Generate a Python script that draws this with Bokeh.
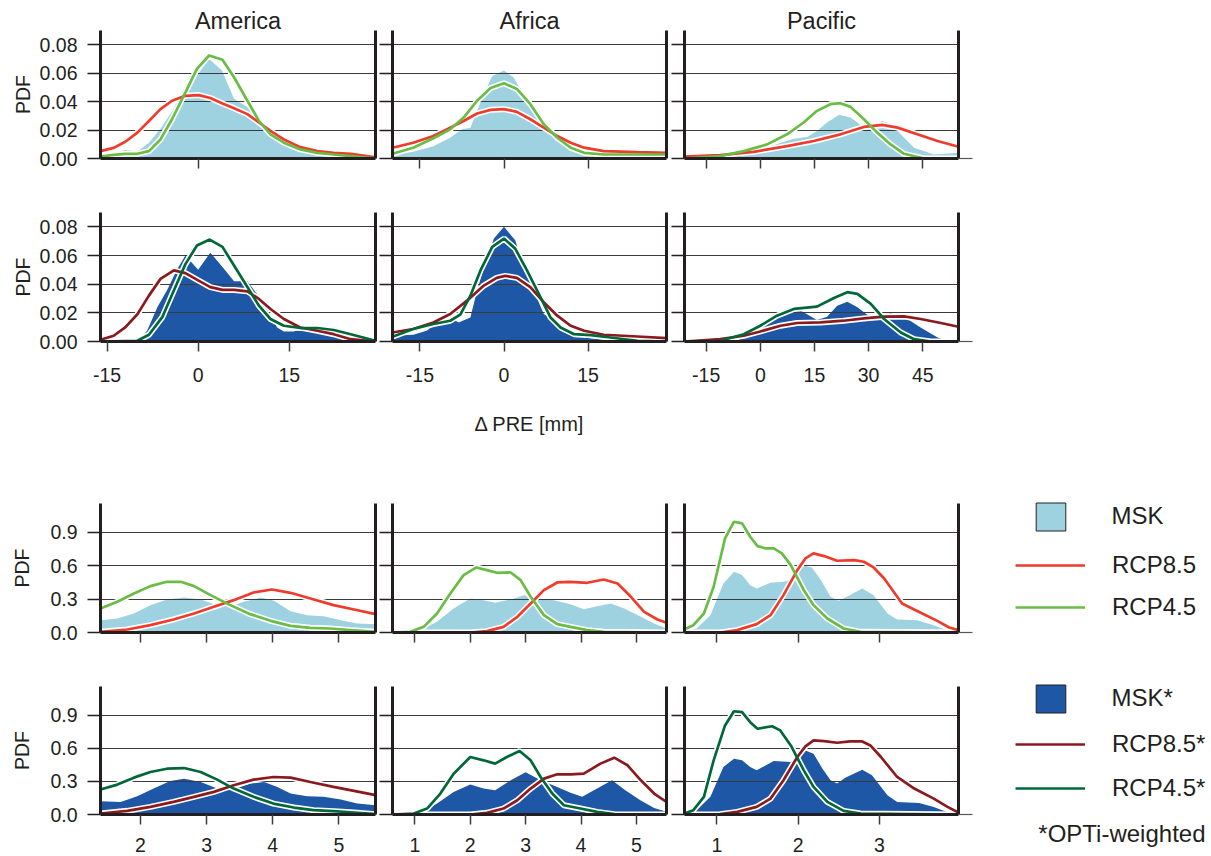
from bokeh.plotting import figure
from bokeh.layouts import column, row
from bokeh.models import Range1d, LinearAxis, FixedTicker, Legend, LegendItem, Label
from bokeh.embed import file_html
from bokeh.resources import INLINE

# ---------------- data ----------------
REGIONS = ["America", "Africa", "Pacific"]
LEGEND_TOP = ["MSK", "RCP8.5", "RCP4.5"]
LEGEND_BOT = ["MSK*", "RCP8.5*", "RCP4.5*"]
FOOTNOTE = "*OPTi-weighted"
XLABEL_PRE = "\u0394 PRE [mm]"
YLABEL = "PDF"

PRE_XRANGE_AM = [-16.07, 29.18]
PRE_XRANGE_AF = [-19.9, 29.0]
PRE_XRANGE_PA = [-21.0, 54.9]
T_XRANGE_AM = [1.395, 5.555]
T_XRANGE_AF = [0.596, 5.543]
T_XRANGE_PA = [0.601, 3.975]
PRE_YRANGE = [0.0, 0.09]
T_YRANGE = [0.0, 1.16]

PRE_TICKS = [-15, 0, 15]
PRE_TICKLABELS = ["-15", "0", "15"]
PRE_TICKS_AM_TOP = [0]
PRE_TICKS_PA = [-15, 0, 15, 30, 45]
PRE_TICKLABELS_PA = ["-15", "0", "15", "30", "45"]
T_TICKS_AM = [2, 3, 4, 5]
T_TICKLABELS_AM = ["2", "3", "4", "5"]
T_TICKS_AF = [1, 2, 3, 4, 5]
T_TICKLABELS_AF = ["1", "2", "3", "4", "5"]
T_TICKS_PA = [1, 2, 3]
T_TICKLABELS_PA = ["1", "2", "3"]
PDF_TICKS_PRE = [0.0, 0.02, 0.04, 0.06, 0.08]
PDF_TICKLABELS_PRE = ["0.00", "0.02", "0.04", "0.06", "0.08"]
PDF_TICKS_T = [0.0, 0.3, 0.6, 0.9]
PDF_TICKLABELS_T = ["0.0", "0.3", "0.6", "0.9"]

# Row 1: Delta PRE, unweighted
AM_PRE_MSK_X = [-16.07, -13.9, -12.0, -10.0, -8.1, -6.2, -4.3, -2.1, -0.8, 0.6, 1.8, 3.9, 5.9, 8.1, 10.0, 11.9, 14.1, 16.8, 19.6, 22.3, 25.1, 29.18]
AM_PRE_MSK_Y = [0.0024, 0.004, 0.006, 0.005, 0.011, 0.021, 0.033, 0.051, 0.055, 0.063, 0.070, 0.062, 0.042, 0.036, 0.026, 0.018, 0.010, 0.008, 0.006, 0.004, 0.003, 0.001]
AM_PRE_R45_X = [-16.07, -13.9, -12.0, -10.0, -8.1, -6.2, -4.3, -2.1, -0.2, 1.8, 4.0, 5.9, 8.1, 10.0, 11.9, 14.1, 16.8, 19.6, 22.3, 25.1, 29.18]
AM_PRE_R45_Y = [0.0014, 0.0026, 0.0033, 0.0033, 0.0052, 0.0134, 0.0276, 0.0465, 0.063, 0.0724, 0.0694, 0.0571, 0.0406, 0.0264, 0.0170, 0.0111, 0.0064, 0.0040, 0.0028, 0.0017, 0.0]
AM_PRE_R85_X = [-16.07, -13.9, -12.0, -10.0, -8.1, -6.2, -4.3, -2.1, 0.1, 2.0, 4.0, 5.9, 8.1, 10.0, 11.9, 14.1, 16.8, 19.6, 22.3, 25.1, 29.18]
AM_PRE_R85_Y = [0.0052, 0.0075, 0.0118, 0.0182, 0.0264, 0.0347, 0.0406, 0.0441, 0.0446, 0.0425, 0.0387, 0.0354, 0.0312, 0.0253, 0.0194, 0.0134, 0.0080, 0.0052, 0.0040, 0.0033, 0.0009]

AF_PRE_MSK_X = [-19.9, -16.2, -12.6, -9.6, -7.5, -6.0, -4.8, -3.6, -2.1, 0.0, 1.7, 3.5, 5.9, 8.3, 10.7, 13.1, 15.4, 19.0, 23.8, 29.0]
AF_PRE_MSK_Y = [0.0024, 0.0047, 0.0087, 0.0146, 0.0205, 0.0217, 0.0335, 0.0453, 0.058, 0.0618, 0.057, 0.0453, 0.0335, 0.0217, 0.0123, 0.0064, 0.004, 0.0033, 0.004, 0.0028]
AF_PRE_R45_X = [-19.9, -16.2, -12.6, -9.6, -7.2, -4.8, -2.4, 0.0, 2.3, 4.7, 7.1, 9.5, 11.9, 14.3, 17.8, 23.8, 29.0]
AF_PRE_R45_Y = [0.0033, 0.0076, 0.0142, 0.0205, 0.0288, 0.0406, 0.0496, 0.0529, 0.0489, 0.0382, 0.0241, 0.0146, 0.0076, 0.0040, 0.0028, 0.0028, 0.0028]
AF_PRE_R85_X = [-19.9, -16.2, -12.6, -9.6, -7.2, -4.8, -2.4, 0.0, 2.3, 4.7, 7.1, 9.5, 11.9, 14.3, 17.8, 23.8, 29.0]
AF_PRE_R85_Y = [0.0076, 0.0111, 0.0158, 0.0217, 0.0264, 0.0316, 0.0342, 0.0347, 0.0328, 0.0276, 0.0217, 0.0158, 0.0111, 0.0076, 0.0052, 0.0045, 0.0040]

PA_PRE_MSK_X = [-21.0, -11.1, -1.9, 5.6, 9.3, 13.0, 15.7, 18.5, 21.8, 25.0, 28.2, 30.6, 33.8, 36.1, 38.9, 42.6, 48.1, 54.9]
PA_PRE_MSK_Y = [0.0005, 0.0014, 0.004, 0.011, 0.0139, 0.0151, 0.0194, 0.0253, 0.0307, 0.0288, 0.0229, 0.0229, 0.0264, 0.0245, 0.017, 0.0076, 0.0028, 0.004]
PA_PRE_R45_X = [-21.0, -11.1, -4.6, 1.9, 7.4, 12.0, 15.7, 19.4, 22.2, 25.0, 28.7, 32.4, 36.1, 39.8, 45.4, 54.9]
PA_PRE_R45_Y = [0.0, 0.0017, 0.0052, 0.0099, 0.017, 0.0253, 0.0335, 0.0382, 0.0389, 0.0363, 0.0276, 0.0182, 0.0099, 0.0033, 0.0, 0.0]
PA_PRE_R85_X = [-21.0, -11.1, -1.9, 7.4, 14.8, 22.2, 28.7, 33.8, 38.0, 43.5, 49.1, 54.9]
PA_PRE_R85_Y = [0.0014, 0.0024, 0.0047, 0.0087, 0.0123, 0.017, 0.0222, 0.0236, 0.0217, 0.017, 0.0123, 0.0083]

# Row 2: Delta PRE, OPTi-weighted
AM_PREW_MSK_X = [-16.07, -10.0, -8.4, -6.7, -5.1, -3.5, -2.1, 0.0, 2.0, 4.0, 5.9, 8.1, 9.7, 11.4, 13.0, 14.1, 15.7, 17.9, 20.1, 22.3, 25.1, 29.18]
AM_PREW_MSK_Y = [0.0, 0.0, 0.0075, 0.024, 0.036, 0.050, 0.060, 0.050, 0.062, 0.052, 0.042, 0.042, 0.033, 0.0215, 0.0098, 0.007, 0.007, 0.0094, 0.0094, 0.0075, 0.0028, 0.0]
AM_PREW_R45_X = [-16.07, -10.0, -8.1, -5.9, -4.0, -2.1, -0.2, 1.9, 4.0, 5.9, 8.1, 10.0, 11.9, 14.1, 16.8, 19.6, 22.3, 25.1, 29.18]
AM_PREW_R45_Y = [0.0, 0.0005, 0.0047, 0.017, 0.0356, 0.054, 0.067, 0.0711, 0.066, 0.053, 0.038, 0.025, 0.0157, 0.011, 0.0094, 0.0094, 0.0080, 0.0051, 0.0005]
AM_PREW_R85_X = [-16.07, -13.9, -12.0, -10.0, -8.1, -6.2, -4.0, -2.1, 0.0, 2.0, 4.0, 5.9, 8.1, 10.0, 11.9, 14.1, 16.8, 19.6, 22.3, 25.1, 29.18]
AM_PREW_R85_Y = [0.0012, 0.004, 0.0098, 0.019, 0.032, 0.0437, 0.0496, 0.0477, 0.0426, 0.0379, 0.036, 0.036, 0.035, 0.0297, 0.0227, 0.0157, 0.0098, 0.0075, 0.0051, 0.0016, 0.0]

AF_PREW_MSK_X = [-19.9, -16.2, -13.8, -11.4, -9.6, -8.1, -6.0, -4.8, -3.3, -1.8, 0.0, 2.0, 3.5, 5.3, 7.1, 8.9, 11.3, 14.3, 17.8, 23.8, 29.0]
AF_PREW_MSK_Y = [0.004, 0.0047, 0.0075, 0.0145, 0.0168, 0.0133, 0.0168, 0.0356, 0.0554, 0.0718, 0.080, 0.0706, 0.052, 0.0356, 0.0192, 0.0145, 0.0075, 0.0028, 0.0012, 0.0005, 0.0005]
AF_PREW_R45_X = [-19.9, -16.2, -12.6, -9.6, -7.8, -6.0, -4.2, -2.1, 0.0, 2.0, 4.1, 6.5, 8.3, 10.1, 12.5, 15.5, 19.0, 23.8, 29.0]
AF_PREW_R45_Y = [0.0033, 0.0087, 0.0122, 0.0145, 0.0187, 0.032, 0.0496, 0.066, 0.0718, 0.0648, 0.0496, 0.0309, 0.0168, 0.0098, 0.0051, 0.0044, 0.0028, 0.0005, 0.0]
AF_PREW_R85_X = [-19.9, -16.2, -12.6, -9.6, -6.6, -3.6, -1.3, 0.2, 2.3, 4.7, 7.1, 9.5, 11.9, 14.3, 17.8, 23.8, 29.0]
AF_PREW_R85_Y = [0.0063, 0.0087, 0.0133, 0.0192, 0.0285, 0.039, 0.0444, 0.0458, 0.0444, 0.0379, 0.0274, 0.018, 0.011, 0.0075, 0.0047, 0.0035, 0.0023]

PA_PREW_MSK_X = [-21.0, -6.5, -0.9, 2.8, 5.6, 8.8, 12.0, 15.7, 18.5, 21.3, 24.1, 26.9, 30.6, 33.3, 36.1, 39.8, 44.4, 49.1, 51.9, 54.9]
PA_PREW_MSK_Y = [0.0, 0.0005, 0.0075, 0.0157, 0.021, 0.0243, 0.0204, 0.015, 0.0173, 0.025, 0.0278, 0.0239, 0.0168, 0.018, 0.0196, 0.0173, 0.0098, 0.0028, 0.0005, 0.0]
PA_PREW_R45_X = [-21.0, -11.1, -4.6, 0.0, 4.6, 9.3, 15.7, 20.4, 24.1, 26.9, 30.6, 34.3, 38.9, 42.6, 47.2, 54.9]
PA_PREW_R45_Y = [0.0, 0.0005, 0.0051, 0.011, 0.018, 0.0227, 0.0243, 0.0304, 0.0344, 0.0332, 0.0262, 0.0157, 0.0063, 0.0016, 0.0, 0.0]
PA_PREW_R85_X = [-21.0, -11.1, -4.6, 0.0, 5.6, 10.2, 16.7, 23.1, 28.7, 34.3, 39.8, 44.4, 50.0, 54.9]
PA_PREW_R85_Y = [0.0, 0.0016, 0.004, 0.007, 0.011, 0.0129, 0.0133, 0.0145, 0.0161, 0.0173, 0.0175, 0.0157, 0.0129, 0.0103]

# Row 3: lower block, unweighted
AM_T_MSK_X = [1.395, 1.65, 1.9, 2.15, 2.40, 2.66, 2.91, 3.16, 3.36, 3.56, 3.82, 4.02, 4.27, 4.52, 4.77, 5.03, 5.28, 5.555]
AM_T_MSK_Y = [0.111, 0.126, 0.171, 0.246, 0.297, 0.315, 0.297, 0.246, 0.237, 0.276, 0.315, 0.285, 0.192, 0.156, 0.147, 0.111, 0.081, 0.075]
AM_T_R45_X = [1.395, 1.65, 1.9, 2.15, 2.40, 2.61, 2.81, 3.06, 3.36, 3.66, 3.97, 4.27, 4.57, 4.87, 5.18, 5.555]
AM_T_R45_Y = [0.216, 0.276, 0.351, 0.417, 0.456, 0.456, 0.417, 0.336, 0.246, 0.165, 0.105, 0.06, 0.042, 0.036, 0.021, 0.006]
AM_T_R85_X = [1.395, 1.8, 2.15, 2.50, 2.81, 3.11, 3.41, 3.71, 3.99, 4.27, 4.57, 4.92, 5.23, 5.555]
AM_T_R85_Y = [0.006, 0.027, 0.066, 0.117, 0.171, 0.231, 0.291, 0.36, 0.387, 0.357, 0.306, 0.246, 0.207, 0.165]

AF_T_MSK_X = [0.596, 1.1, 1.4, 1.7, 2.0, 2.24, 2.45, 2.73, 2.97, 3.21, 3.51, 3.81, 4.05, 4.29, 4.54, 4.78, 5.08, 5.32, 5.543]
AF_T_MSK_Y = [0.006, 0.021, 0.096, 0.216, 0.306, 0.291, 0.267, 0.297, 0.336, 0.306, 0.291, 0.255, 0.21, 0.237, 0.261, 0.216, 0.141, 0.081, 0.036]
AF_T_R45_X = [0.596, 0.92, 1.16, 1.4, 1.64, 1.88, 2.11, 2.30, 2.48, 2.73, 2.91, 3.09, 3.33, 3.57, 3.81, 4.11, 4.41, 5.543]
AF_T_R45_Y = [0.0, 0.006, 0.051, 0.171, 0.351, 0.516, 0.585, 0.561, 0.537, 0.54, 0.471, 0.321, 0.156, 0.075, 0.051, 0.021, 0.006, 0.0]
AF_T_R85_X = [0.596, 2.0, 2.30, 2.6, 2.85, 3.09, 3.33, 3.57, 3.81, 4.11, 4.41, 4.66, 4.9, 5.14, 5.38, 5.543]
AF_T_R85_Y = [0.0, 0.0, 0.012, 0.051, 0.141, 0.261, 0.381, 0.45, 0.456, 0.447, 0.477, 0.441, 0.321, 0.186, 0.117, 0.087]

PA_T_MSK_X = [0.601, 0.75, 0.92, 1.08, 1.21, 1.31, 1.41, 1.49, 1.66, 1.82, 1.93, 2.05, 2.17, 2.28, 2.40, 2.50, 2.60, 2.79, 2.93, 3.10, 3.22, 3.47, 3.67, 3.88, 3.975]
PA_T_MSK_Y = [0.006, 0.036, 0.156, 0.441, 0.546, 0.516, 0.426, 0.396, 0.447, 0.456, 0.477, 0.606, 0.585, 0.471, 0.321, 0.285, 0.321, 0.396, 0.336, 0.171, 0.117, 0.111, 0.066, 0.006, 0.0]
PA_T_R45_X = [0.601, 0.71, 0.84, 0.96, 1.10, 1.21, 1.31, 1.41, 1.50, 1.60, 1.70, 1.80, 1.91, 2.07, 2.19, 2.36, 2.56, 2.77, 3.975]
PA_T_R45_Y = [0.03, 0.066, 0.171, 0.411, 0.846, 0.996, 0.981, 0.861, 0.777, 0.756, 0.756, 0.711, 0.606, 0.381, 0.246, 0.126, 0.036, 0.006, 0.0]
PA_T_R85_X = [0.601, 1.04, 1.25, 1.49, 1.66, 1.82, 1.99, 2.09, 2.19, 2.32, 2.48, 2.69, 2.81, 2.93, 3.06, 3.28, 3.51, 3.72, 3.86, 3.975]
PA_T_R85_Y = [0.0, 0.0, 0.021, 0.075, 0.156, 0.336, 0.561, 0.666, 0.711, 0.687, 0.645, 0.651, 0.636, 0.585, 0.486, 0.261, 0.177, 0.102, 0.045, 0.021]

# Row 4: lower block, OPTi-weighted
AM_TW_MSK_X = [1.395, 1.70, 1.95, 2.2, 2.45, 2.66, 2.91, 3.16, 3.41, 3.66, 3.87, 4.07, 4.27, 4.52, 4.77, 5.03, 5.28, 5.555]
AM_TW_MSK_Y = [0.12, 0.114, 0.166, 0.235, 0.304, 0.325, 0.295, 0.235, 0.226, 0.28, 0.295, 0.25, 0.19, 0.166, 0.16, 0.135, 0.10, 0.084]
AM_TW_R45_X = [1.395, 1.65, 1.9, 2.15, 2.40, 2.66, 2.91, 3.16, 3.41, 3.71, 4.01, 4.32, 4.62, 4.92, 5.23, 5.555]
AM_TW_R45_Y = [0.226, 0.271, 0.334, 0.385, 0.415, 0.421, 0.385, 0.316, 0.235, 0.16, 0.099, 0.063, 0.039, 0.030, 0.018, 0.003]
AM_TW_R85_X = [1.395, 1.8, 2.15, 2.50, 2.81, 3.11, 3.41, 3.71, 4.01, 4.27, 4.57, 4.92, 5.23, 5.555]
AM_TW_R85_Y = [0.009, 0.033, 0.069, 0.114, 0.16, 0.205, 0.265, 0.316, 0.34, 0.334, 0.295, 0.25, 0.214, 0.175]

AF_TW_MSK_X = [0.596, 1.1, 1.4, 1.7, 2.0, 2.24, 2.45, 2.73, 3.0, 3.27, 3.57, 3.81, 4.02, 4.29, 4.56, 4.80, 5.07, 5.32, 5.543]
AF_TW_MSK_Y = [0.003, 0.015, 0.099, 0.205, 0.271, 0.235, 0.22, 0.31, 0.382, 0.31, 0.25, 0.196, 0.16, 0.235, 0.31, 0.22, 0.129, 0.06, 0.024]
AF_TW_R45_X = [0.596, 0.98, 1.22, 1.46, 1.7, 2.0, 2.24, 2.45, 2.66, 2.89, 3.09, 3.27, 3.48, 3.69, 3.99, 4.29, 4.6, 5.543]
AF_TW_R45_Y = [0.0, 0.009, 0.054, 0.19, 0.37, 0.521, 0.491, 0.461, 0.521, 0.575, 0.491, 0.34, 0.19, 0.084, 0.054, 0.024, 0.003, 0.0]
AF_TW_R85_X = [0.596, 2.0, 2.30, 2.6, 2.85, 3.09, 3.33, 3.57, 3.81, 4.05, 4.35, 4.60, 4.84, 5.08, 5.32, 5.543]
AF_TW_R85_Y = [0.0, 0.0, 0.015, 0.054, 0.129, 0.235, 0.325, 0.364, 0.364, 0.37, 0.461, 0.515, 0.446, 0.31, 0.19, 0.114]

PA_TW_MSK_X = [0.601, 0.75, 0.92, 1.08, 1.21, 1.31, 1.41, 1.49, 1.70, 1.91, 2.09, 2.19, 2.30, 2.40, 2.48, 2.58, 2.79, 2.91, 3.10, 3.22, 3.49, 3.67, 3.88, 3.975]
PA_TW_MSK_Y = [0.003, 0.039, 0.16, 0.43, 0.506, 0.491, 0.43, 0.40, 0.485, 0.476, 0.581, 0.551, 0.415, 0.31, 0.28, 0.334, 0.406, 0.355, 0.175, 0.114, 0.105, 0.069, 0.009, 0.0]
PA_TW_R45_X = [0.601, 0.71, 0.84, 0.96, 1.10, 1.21, 1.31, 1.41, 1.50, 1.68, 1.78, 1.91, 2.07, 2.19, 2.36, 2.56, 2.77, 3.975]
PA_TW_R45_Y = [0.009, 0.039, 0.16, 0.491, 0.807, 0.936, 0.927, 0.837, 0.777, 0.80, 0.762, 0.626, 0.40, 0.25, 0.114, 0.033, 0.009, 0.0]
PA_TW_R85_X = [0.601, 1.04, 1.25, 1.49, 1.66, 1.82, 1.99, 2.09, 2.19, 2.32, 2.48, 2.64, 2.79, 2.89, 3.02, 3.22, 3.43, 3.67, 3.84, 3.975]
PA_TW_R85_Y = [0.0, 0.003, 0.024, 0.069, 0.144, 0.31, 0.521, 0.617, 0.671, 0.665, 0.65, 0.662, 0.662, 0.626, 0.521, 0.34, 0.235, 0.144, 0.069, 0.018]

# ---------------- style ----------------
FONT = "Liberation Sans"
TXT = "#231f20"
AX = "#231f20"
TICK = "#3c3c3c"
GRID = "#3a3a3a"
C_MSK = "#9ed2e0"
C_MSKW = "#1e57a6"
C_R85 = "#ef3b2c"
C_R45 = "#69bd45"
C_R85W = "#8b1a1e"
C_R45W = "#006838"


def overrides(ticks, labels):
    return {float(t): s for t, s in zip(ticks, labels)}


def panel(xr, yr, fh, fw, borders, xticks, xlabels, yticks, ylabels,
          ylab=None, ylab_standoff=8, x_standoff=2, title=None, right_zero_tick=False):
    l, r, t, b = borders
    p = figure(frame_width=fw, frame_height=fh,
               x_range=Range1d(xr[0], xr[1]), y_range=Range1d(yr[0], yr[1]),
               output_backend="svg", toolbar_location=None,
               min_border_left=l, min_border_right=r,
               min_border_top=t, min_border_bottom=b)
    if title:
        p.title.text = title
        p.title.align = "center"
        p.title.text_font = FONT
        p.title.text_font_size = "23.5px"
        p.title.text_font_style = "normal"
        p.title.text_color = TXT
        p.title.standoff = -6
    p.outline_line_color = None
    p.background_fill_color = "white"
    p.border_fill_color = "white"
    p.xgrid.visible = False
    p.ygrid.ticker = FixedTicker(ticks=[v for v in yticks if v > 0])
    p.ygrid.grid_line_color = GRID
    p.ygrid.grid_line_width = 1.1

    xa = p.xaxis[0]
    xa.ticker = FixedTicker(ticks=xticks)
    xa.major_label_overrides = overrides(xticks, xlabels)
    xa.axis_line_width = 3
    xa.axis_line_color = AX
    xa.major_tick_out = 10
    xa.major_tick_in = 0
    xa.major_tick_line_color = TICK
    xa.major_tick_line_width = 1.5
    xa.minor_tick_line_color = None
    xa.major_label_standoff = x_standoff
    xa.major_label_text_font = FONT
    xa.major_label_text_font_size = "19.5px"
    xa.major_label_text_color = TXT

    ya = p.yaxis[0]
    ya.ticker = FixedTicker(ticks=yticks)
    ya.major_label_overrides = overrides(yticks, ylabels)
    ya.axis_line_width = 3
    ya.axis_line_color = AX
    ya.major_tick_out = 13
    ya.major_tick_in = 0
    ya.major_tick_line_color = AX
    ya.major_tick_line_width = 1.5
    ya.minor_tick_line_color = None
    ya.major_label_standoff = 10 if ylab else 0
    ya.major_label_text_font = FONT
    ya.major_label_text_font_size = "19.5px"
    ya.major_label_text_color = TXT
    if ylab:
        ya.axis_label = ylab
        ya.axis_label_text_font = FONT
        ya.axis_label_text_font_size = "19.5px"
        ya.axis_label_text_font_style = "normal"
        ya.axis_label_text_color = TXT
        ya.axis_label_standoff = ylab_standoff

    rticks = [yticks[0]] if right_zero_tick else []
    ra = LinearAxis(ticker=FixedTicker(ticks=rticks), axis_line_width=3, axis_line_color=AX,
                    major_label_overrides=overrides(rticks, [""] * len(rticks)),
                    major_tick_line_color="#555555", major_tick_line_width=1.2,
                    minor_tick_line_color=None,
                    major_tick_out=14 if right_zero_tick else 0, major_tick_in=0,
                    major_label_standoff=0)
    p.add_layout(ra, "right")
    return p


def draw(p, mx, my, fill, ax_, ay_, acol, bx, by, bcol):
    p.varea(x=mx, y1=0, y2=my, fill_color=fill, level="image")
    p.line(ax_, ay_, line_color="white", line_width=6)
    p.line(bx, by, line_color="white", line_width=6)
    p.line(ax_, ay_, line_color=acol, line_width=2.7)
    p.line(bx, by, line_color=bcol, line_width=2.7)


E3 = ["", "", ""]
E4 = ["", "", "", ""]
E5 = ["", "", "", "", ""]
RB_PA = 16

# ---- row 1 ----
B1 = 40
p11 = panel(PRE_XRANGE_AM, PRE_YRANGE, 128, 275, (100, 2, 30, B1), PRE_TICKS_AM_TOP, [""],
            PDF_TICKS_PRE, PDF_TICKLABELS_PRE, ylab=YLABEL, ylab_standoff=3, title=REGIONS[0])
draw(p11, AM_PRE_MSK_X, AM_PRE_MSK_Y, C_MSK, AM_PRE_R85_X, AM_PRE_R85_Y, C_R85, AM_PRE_R45_X, AM_PRE_R45_Y, C_R45)

p12 = panel(PRE_XRANGE_AF, PRE_YRANGE, 128, 274, (15, 2, 30, B1), PRE_TICKS, E3,
            PDF_TICKS_PRE, E5, title=REGIONS[1])
draw(p12, AF_PRE_MSK_X, AF_PRE_MSK_Y, C_MSK, AF_PRE_R85_X, AF_PRE_R85_Y, C_R85, AF_PRE_R45_X, AF_PRE_R45_Y, C_R45)

p13 = panel(PRE_XRANGE_PA, PRE_YRANGE, 128, 274, (16, RB_PA, 30, B1), PRE_TICKS_PA, E5,
            PDF_TICKS_PRE, E5, title=REGIONS[2], right_zero_tick=True)
draw(p13, PA_PRE_MSK_X, PA_PRE_MSK_Y, C_MSK, PA_PRE_R85_X, PA_PRE_R85_Y, C_R85, PA_PRE_R45_X, PA_PRE_R45_Y, C_R45)

# ---- row 2 ----
B2 = 140
p21 = panel(PRE_XRANGE_AM, PRE_YRANGE, 129, 275, (100, 2, 14, B2), PRE_TICKS, PRE_TICKLABELS,
            PDF_TICKS_PRE, PDF_TICKLABELS_PRE, ylab=YLABEL, ylab_standoff=3, x_standoff=16)
draw(p21, AM_PREW_MSK_X, AM_PREW_MSK_Y, C_MSKW, AM_PREW_R85_X, AM_PREW_R85_Y, C_R85W, AM_PREW_R45_X, AM_PREW_R45_Y, C_R45W)

p22 = panel(PRE_XRANGE_AF, PRE_YRANGE, 129, 274, (15, 2, 14, B2), PRE_TICKS, PRE_TICKLABELS,
            PDF_TICKS_PRE, E5, x_standoff=16)
draw(p22, AF_PREW_MSK_X, AF_PREW_MSK_Y, C_MSKW, AF_PREW_R85_X, AF_PREW_R85_Y, C_R85W, AF_PREW_R45_X, AF_PREW_R45_Y, C_R45W)
p22.xaxis[0].axis_label = XLABEL_PRE
p22.xaxis[0].axis_label_text_font = FONT
p22.xaxis[0].axis_label_text_font_size = "20px"
p22.xaxis[0].axis_label_text_font_style = "normal"
p22.xaxis[0].axis_label_text_color = TXT
p22.xaxis[0].axis_label_standoff = 28

p23 = panel(PRE_XRANGE_PA, PRE_YRANGE, 129, 274, (16, RB_PA, 14, B2), PRE_TICKS_PA, PRE_TICKLABELS_PA,
            PDF_TICKS_PRE, E5, x_standoff=16, right_zero_tick=True)
draw(p23, PA_PREW_MSK_X, PA_PREW_MSK_Y, C_MSKW, PA_PREW_R85_X, PA_PREW_R85_Y, C_R85W, PA_PREW_R45_X, PA_PREW_R45_Y, C_R45W)

# ---- row 3 ----
B3 = 40
p31 = panel(T_XRANGE_AM, T_YRANGE, 129, 275, (100, 2, 22, B3), T_TICKS_AM, E4,
            PDF_TICKS_T, PDF_TICKLABELS_T, ylab=YLABEL, ylab_standoff=14)
draw(p31, AM_T_MSK_X, AM_T_MSK_Y, C_MSK, AM_T_R85_X, AM_T_R85_Y, C_R85, AM_T_R45_X, AM_T_R45_Y, C_R45)

p32 = panel(T_XRANGE_AF, T_YRANGE, 129, 274, (15, 2, 22, B3), T_TICKS_AF, E5,
            PDF_TICKS_T, E4)
draw(p32, AF_T_MSK_X, AF_T_MSK_Y, C_MSK, AF_T_R85_X, AF_T_R85_Y, C_R85, AF_T_R45_X, AF_T_R45_Y, C_R45)

p33 = panel(T_XRANGE_PA, T_YRANGE, 129, 274, (16, RB_PA, 22, B3), T_TICKS_PA, E3,
            PDF_TICKS_T, E4, right_zero_tick=True)
draw(p33, PA_T_MSK_X, PA_T_MSK_Y, C_MSK, PA_T_R85_X, PA_T_R85_Y, C_R85, PA_T_R45_X, PA_T_R45_Y, C_R45)

# ---- row 4 ----
B4 = 41
p41 = panel(T_XRANGE_AM, T_YRANGE, 128, 275, (100, 2, 14, B4), T_TICKS_AM, T_TICKLABELS_AM,
            PDF_TICKS_T, PDF_TICKLABELS_T, ylab=YLABEL, ylab_standoff=14, x_standoff=13)
draw(p41, AM_TW_MSK_X, AM_TW_MSK_Y, C_MSKW, AM_TW_R85_X, AM_TW_R85_Y, C_R85W, AM_TW_R45_X, AM_TW_R45_Y, C_R45W)

p42 = panel(T_XRANGE_AF, T_YRANGE, 128, 274, (15, 2, 14, B4), T_TICKS_AF, T_TICKLABELS_AF,
            PDF_TICKS_T, E4, x_standoff=13)
draw(p42, AF_TW_MSK_X, AF_TW_MSK_Y, C_MSKW, AF_TW_R85_X, AF_TW_R85_Y, C_R85W, AF_TW_R45_X, AF_TW_R45_Y, C_R45W)

p43 = panel(T_XRANGE_PA, T_YRANGE, 128, 274, (16, RB_PA, 14, B4), T_TICKS_PA, T_TICKLABELS_PA,
            PDF_TICKS_T, E4, x_standoff=13, right_zero_tick=True)
draw(p43, PA_TW_MSK_X, PA_TW_MSK_Y, C_MSKW, PA_TW_R85_X, PA_TW_R85_Y, C_R85W, PA_TW_R45_X, PA_TW_R45_Y, C_R45W)

# ---- legend panel (own figure, to the right of rows 3-4) ----
DX = RB_PA - 2
LW, LH = 251 - DX, 22 + 129 + B3 + 14 + 128 + B4
lf = figure(frame_width=LW, frame_height=LH, x_range=Range1d(0, LW), y_range=Range1d(0, LH),
            x_axis_type=None, y_axis_type=None, output_backend="svg", toolbar_location=None,
            min_border_left=0, min_border_right=0, min_border_top=0, min_border_bottom=0)
lf.outline_line_color = None
lf.background_fill_color = "white"
lf.border_fill_color = "white"

# legend-only renderers (hidden; the legend draws their swatches)
s_msk = lf.patch(PA_T_MSK_X, PA_T_MSK_Y, fill_color=C_MSK, line_color=AX, line_width=1, visible=False)
s_r85 = lf.line(PA_T_R85_X, PA_T_R85_Y, line_color=C_R85, line_width=2.7, visible=False)
s_r45 = lf.line(PA_T_R45_X, PA_T_R45_Y, line_color=C_R45, line_width=2.7, visible=False)
s_mskw = lf.patch(PA_TW_MSK_X, PA_TW_MSK_Y, fill_color=C_MSKW, line_color=AX, line_width=1, visible=False)
s_r85w = lf.line(PA_TW_R85_X, PA_TW_R85_Y, line_color=C_R85W, line_width=2.7, visible=False)
s_r45w = lf.line(PA_TW_R45_X, PA_TW_R45_Y, line_color=C_R45W, line_width=2.7, visible=False)

common = dict(border_line_color=None, background_fill_alpha=0, margin=0, padding=0,
              label_text_font=FONT, label_text_font_size="24px", label_text_color=TXT)


def sq_legend(label, rend, vy):
    return Legend(items=[LegendItem(label=label, renderers=[rend])], location=(71.5 - DX, vy),
                  glyph_width=37, glyph_height=35, label_height=35, label_standoff=43, **common)


def ln_legend(labels, ra, rb, vy, spacing):
    return Legend(items=[LegendItem(label=labels[0], renderers=[ra]),
                         LegendItem(label=labels[1], renderers=[rb])],
                  location=(55 - DX, vy), glyph_width=70, glyph_height=30, label_height=30,
                  spacing=spacing, label_standoff=27, **common)


lf.add_layout(sq_legend(LEGEND_TOP[0], s_msk, 321.5))
lf.add_layout(ln_legend(LEGEND_TOP[1:], s_r85, s_r45, 233, 12))
lf.add_layout(sq_legend(LEGEND_BOT[0], s_mskw, 139.5))
lf.add_layout(ln_legend(LEGEND_BOT[1:], s_r85w, s_r45w, 52, 14))
lf.add_layout(Label(x=LW - 6, y=22, text=FOOTNOTE, text_align="right", text_baseline="middle",
                    text_font=FONT, text_font_size="24px", text_color=TXT))

layout = column(row(p11, p12, p13),
                row(p21, p22, p23),
                row(column(row(p31, p32, p33), row(p41, p42, p43)), lf))

open("out.html", "w").write(file_html(layout, INLINE))
